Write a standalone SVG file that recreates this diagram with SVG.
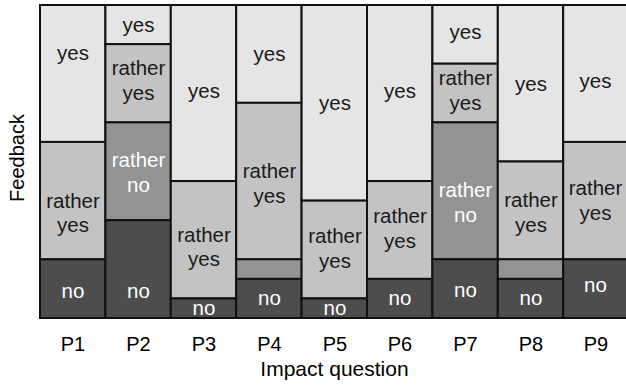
<svg xmlns="http://www.w3.org/2000/svg" width="626" height="385" viewBox="0 0 626 385">
<style>
rect{stroke:#111;stroke-width:2}
.y{fill:#e5e5e5}.ry{fill:#c3c3c3}.rn{fill:#939393}.n{fill:#4d4d4d}
text{font-family:"Liberation Sans",Arial,sans-serif;font-size:20.5px;text-anchor:middle}
.d{fill:#1a1a1a}.w{fill:#ffffff}
.ax{fill:#000;font-size:20px}
.ix{fill:#000;font-size:21px}
</style>
<rect x="0" y="0" width="626" height="385" style="fill:#fff;stroke:none"/>
<g id="P1">
<rect class="y" x="40" y="5" width="65.4" height="136.94"/>
<rect class="ry" x="40" y="141.94" width="65.4" height="117.37"/>
<rect class="n" x="40" y="259.31" width="65.4" height="58.69"/>
<text class="d" x="73" y="60">yes</text>
<text class="d" x="73" y="208">rather</text><text class="d" x="73" y="232">yes</text>
<text class="w" x="73" y="298">no</text>
</g>
<g id="P2">
<rect class="y" x="105.4" y="5" width="65.4" height="39.13"/>
<rect class="ry" x="105.4" y="44.13" width="65.4" height="78.25"/>
<rect class="rn" x="105.4" y="122.38" width="65.4" height="97.81"/>
<rect class="n" x="105.4" y="220.19" width="65.4" height="97.81"/>
<text class="d" x="138.5" y="31.5">yes</text>
<text class="d" x="138.5" y="75">rather</text><text class="d" x="138.5" y="100">yes</text>
<text class="w" x="138.5" y="167">rather</text><text class="w" x="138.5" y="191.5">no</text>
<text class="w" x="138.5" y="298">no</text>
</g>
<g id="P3">
<rect class="y" x="170.8" y="5" width="65.4" height="176.06"/>
<rect class="ry" x="170.8" y="181.06" width="65.4" height="117.38"/>
<rect class="n" x="170.8" y="298.44" width="65.4" height="19.56"/>
<text class="d" x="204" y="98">yes</text>
<text class="d" x="204" y="242">rather</text><text class="d" x="204" y="266">yes</text>
<text class="w" x="204" y="315">no</text>
</g>
<g id="P4">
<rect class="y" x="236.2" y="5" width="65.4" height="97.81"/>
<rect class="ry" x="236.2" y="102.81" width="65.4" height="156.5"/>
<rect class="rn" x="236.2" y="259.31" width="65.4" height="19.57"/>
<rect class="n" x="236.2" y="278.88" width="65.4" height="39.12"/>
<text class="d" x="269.5" y="61">yes</text>
<text class="d" x="269.5" y="178">rather</text><text class="d" x="269.5" y="203">yes</text>
<text class="w" x="269.5" y="305">no</text>
</g>
<g id="P5">
<rect class="y" x="301.6" y="5" width="65.4" height="195.63"/>
<rect class="ry" x="301.6" y="200.63" width="65.4" height="97.81"/>
<rect class="n" x="301.6" y="298.44" width="65.4" height="19.56"/>
<text class="d" x="335" y="110">yes</text>
<text class="d" x="335" y="243">rather</text><text class="d" x="335" y="268">yes</text>
<text class="w" x="335" y="315">no</text>
</g>
<g id="P6">
<rect class="y" x="367" y="5" width="65.4" height="176.06"/>
<rect class="ry" x="367" y="181.06" width="65.4" height="97.82"/>
<rect class="n" x="367" y="278.88" width="65.4" height="39.12"/>
<text class="d" x="400" y="98">yes</text>
<text class="d" x="400" y="223">rather</text><text class="d" x="400" y="248">yes</text>
<text class="w" x="400" y="305">no</text>
</g>
<g id="P7">
<rect class="y" x="432.4" y="5" width="65.4" height="58.69"/>
<rect class="ry" x="432.4" y="63.69" width="65.4" height="58.69"/>
<rect class="rn" x="432.4" y="122.38" width="65.4" height="136.93"/>
<rect class="n" x="432.4" y="259.31" width="65.4" height="58.69"/>
<text class="d" x="465.5" y="39">yes</text>
<text class="d" x="465.5" y="85">rather</text><text class="d" x="465.5" y="110">yes</text>
<text class="w" x="465.5" y="197">rather</text><text class="w" x="465.5" y="221.5">no</text>
<text class="w" x="465.5" y="297">no</text>
</g>
<g id="P8">
<rect class="y" x="497.8" y="5" width="65.4" height="156.5"/>
<rect class="ry" x="497.8" y="161.5" width="65.4" height="97.81"/>
<rect class="rn" x="497.8" y="259.31" width="65.4" height="19.57"/>
<rect class="n" x="497.8" y="278.88" width="65.4" height="39.12"/>
<text class="d" x="531" y="90.5">yes</text>
<text class="d" x="531" y="206.5">rather</text><text class="d" x="531" y="231.5">yes</text>
<text class="w" x="531" y="305">no</text>
</g>
<g id="P9">
<rect class="y" x="563.2" y="5" width="65.4" height="136.94"/>
<rect class="ry" x="563.2" y="141.94" width="65.4" height="117.37"/>
<rect class="n" x="563.2" y="259.31" width="65.4" height="58.69"/>
<text class="d" x="595.5" y="87.5">yes</text>
<text class="d" x="595.5" y="195">rather</text><text class="d" x="595.5" y="220">yes</text>
<text class="w" x="595.5" y="292">no</text>
</g>
<g id="axes">
<text class="ax" x="73" y="351">P1</text>
<text class="ax" x="138.5" y="351">P2</text>
<text class="ax" x="204" y="351">P3</text>
<text class="ax" x="269.5" y="351">P4</text>
<text class="ax" x="335" y="351">P5</text>
<text class="ax" x="400" y="351">P6</text>
<text class="ax" x="465.5" y="351">P7</text>
<text class="ax" x="531" y="351">P8</text>
<text class="ax" x="596" y="351">P9</text>
<text class="ix" x="334.5" y="376">Impact question</text>
<text class="ax" transform="translate(24,158) rotate(-90)">Feedback</text>
</g>
</svg>
